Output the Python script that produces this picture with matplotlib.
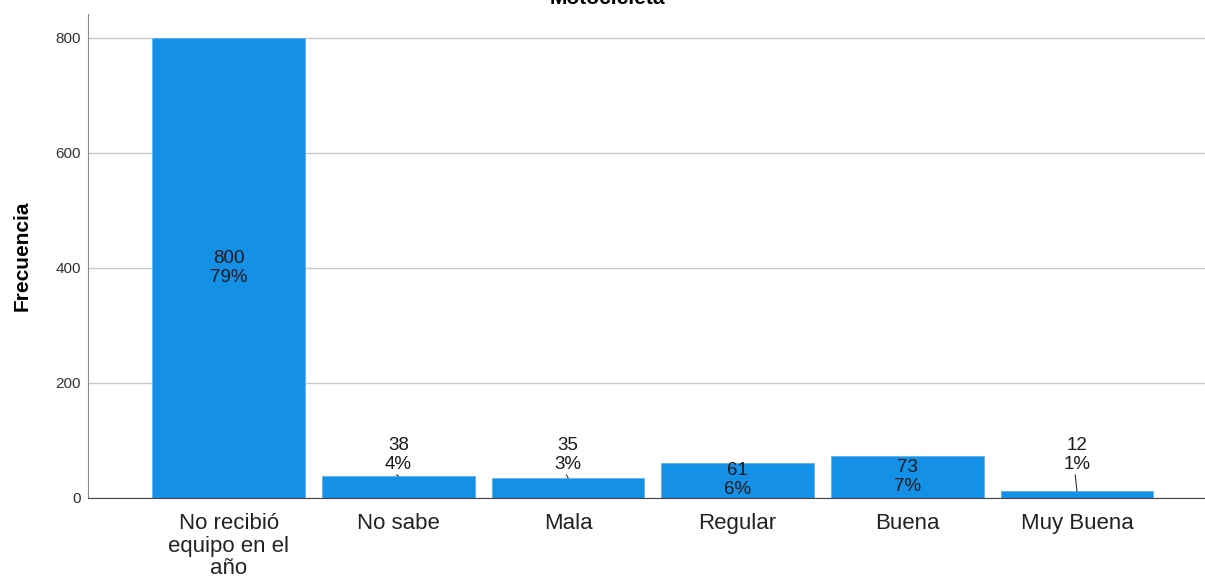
import numpy as np
import matplotlib.pyplot as plt

plt.rcParams['font.family'] = ['Liberation Sans', 'DejaVu Sans']

categories = ['No recibió\nequipo en el\naño', 'No sabe', 'Mala', 'Regular', 'Buena', 'Muy Buena']
counts = [800, 38, 35, 61, 73, 12]

total = sum(counts)
pcts = [round(100 * c / total) for c in counts]

fig = plt.figure(figsize=(12.05, 5.77), dpi=100)
ax = fig.add_axes([0.073, 0.137, 0.927, 0.839])

x = np.arange(len(categories))
ax.bar(x, counts, width=0.9, color='#1490e6', edgecolor='#5fb4ee', linewidth=0.6, zorder=2)

# labels: inside the bar when it is tall enough, above with a leader line otherwise
for xi, c, p in zip(x, counts, pcts):
    txt = f'{c}\n{p}%'
    if c >= 50:
        ax.text(xi, c / 2, txt, ha='center', va='center', fontsize=13.5,
                color='#1a1a1a', linespacing=1.15, zorder=3)
    else:
        ax.text(xi, 75, txt, ha='center', va='center', fontsize=13.5,
                color='#1a1a1a', linespacing=1.15, zorder=3)
        ax.plot([xi, xi - 0.01], [c, 40], color='#333333', linewidth=0.8, zorder=3)

ax.set_xlim(-0.83, 5.755)
ax.set_ylim(0, 842)
ax.set_yticks([0, 200, 400, 600, 800])
ax.set_xticks(x)
ax.set_xticklabels(categories, fontsize=16, color='#222222', linespacing=1.08)
ax.tick_params(axis='x', length=0, pad=11)
ax.tick_params(axis='y', length=0, pad=5, labelsize=11, labelcolor='#333333')

ax.grid(axis='y', color='#c8c8c8', linewidth=1.0, zorder=0)
ax.set_axisbelow(True)
for s in ['top', 'right']:
    ax.spines[s].set_visible(False)
ax.spines['left'].set_color('#888888')
ax.spines['bottom'].set_color('#444444')

ax.set_ylabel('Frecuencia', fontsize=15, fontweight='bold', labelpad=17)

fig.text(0.504, 1 - 4 / 577, 'Motocicleta', ha='center', va='baseline',
         fontsize=15, fontweight='bold')

fig.savefig('out.png', dpi=100)
